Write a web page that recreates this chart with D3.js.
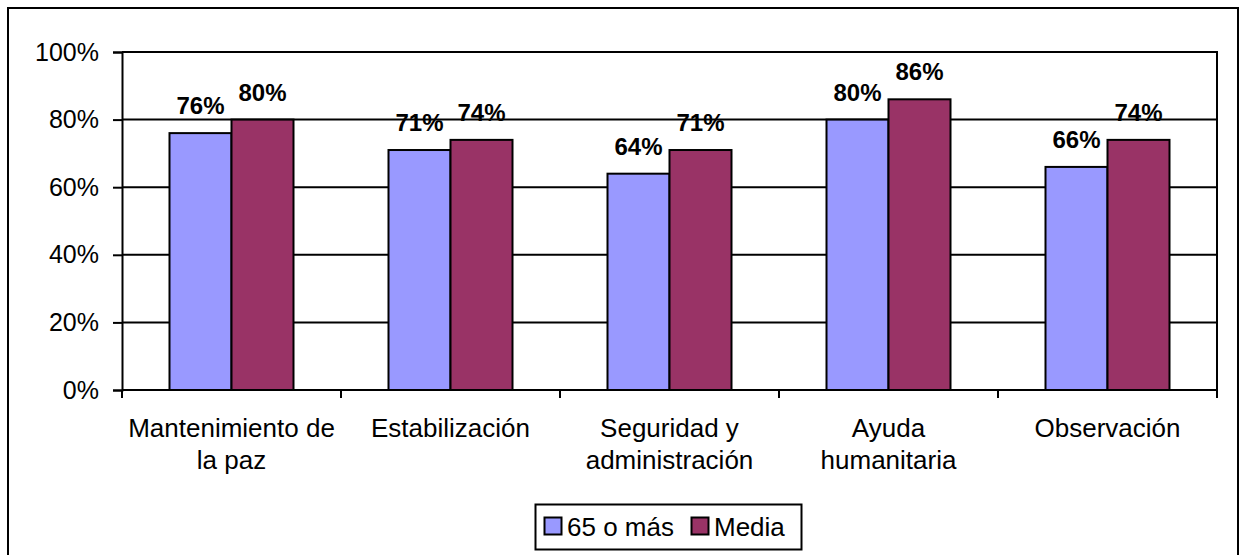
<!DOCTYPE html>
<html><head><meta charset="utf-8">
<script src="https://cdn.jsdelivr.net/npm/d3@7"></script>
<style>
html,body{margin:0;padding:0;background:#fff;}
svg{display:block;font-family:Arial,"Liberation Sans",sans-serif;}
</style></head>
<body>
<svg id="chart" width="1244" height="555"></svg>
<script>
const categories = [["Mantenimiento de","la paz"],["Estabilización"],["Seguridad y","administración"],["Ayuda","humanitaria"],["Observación"]];
const seriesNames = ["65 o más","Media"];
const serie65 = [76,71,64,80,66];
const serieMedia = [80,74,71,86,74];
const yTicks = [0,20,40,60,80,100];
const colors = ["#9999FF","#993366"];

(function(){
const svg = d3.select("#chart");
const SW = 2;
// outer frame
svg.append("rect").attr("x",8).attr("y",8).attr("width",1230).attr("height",560)
  .attr("fill","none").attr("stroke","#000").attr("stroke-width",SW);

const pLeft=122, pRight=1217, pTop=52, pBottom=390;
const x = d3.scaleBand().domain(d3.range(categories.length)).range([pLeft,pRight]).padding(0);
const y = d3.scaleLinear().domain([0,100]).range([pBottom,pTop]);

// gridlines
svg.append("g").selectAll("line").data(yTicks.filter(d=>d>0)).join("line")
  .attr("x1",pLeft).attr("x2",pRight).attr("y1",d=>y(d)).attr("y2",d=>y(d))
  .attr("stroke","#000").attr("stroke-width",SW);
// right border of plot
svg.append("line").attr("x1",pRight).attr("x2",pRight).attr("y1",pTop-1).attr("y2",pBottom)
  .attr("stroke","#000").attr("stroke-width",SW);

const barW = 62;
const data = [];
categories.forEach((c,i)=>{
  data.push({i, s:0, v:serie65[i]});
  data.push({i, s:1, v:serieMedia[i]});
});
const cx = i => x(i) + x.bandwidth()/2;
svg.append("g").selectAll("rect").data(data).join("rect")
  .attr("x",d=>cx(d.i) + (d.s===0 ? -barW : 0))
  .attr("y",d=>y(d.v)).attr("width",barW).attr("height",d=>pBottom-y(d.v))
  .attr("fill",d=>colors[d.s]).attr("stroke","#000").attr("stroke-width",SW);

svg.append("g").selectAll("text").data(data).join("text")
  .attr("x",d=>cx(d.i) + (d.s===0 ? -barW/2 : barW/2))
  .attr("y",d=>y(d.v)-19)
  .attr("text-anchor","middle").attr("font-weight","bold").attr("font-size",24)
  .attr("fill","#000").text(d=>d.v+"%");

// y axis
const yAxis = svg.append("g").attr("transform",`translate(${pLeft},0)`)
  .call(d3.axisLeft(y).tickValues(yTicks).tickFormat(d=>d+"%").tickSize(9).tickPadding(14));
yAxis.select(".domain").attr("stroke","#000").attr("stroke-width",SW);
yAxis.selectAll(".tick line").attr("stroke","#000").attr("stroke-width",SW);
yAxis.selectAll(".tick text").attr("font-size",25).attr("fill","#000").attr("font-family","Arial,'Liberation Sans',sans-serif");

// x axis
const xAxisG = svg.append("g");
xAxisG.append("line").attr("x1",pLeft).attr("x2",pRight).attr("y1",pBottom).attr("y2",pBottom)
  .attr("stroke","#000").attr("stroke-width",SW);
const xTickPos = d3.range(categories.length+1).map(i => i<categories.length ? x(i) : pRight);
xAxisG.selectAll("line.tk").data(xTickPos).join("line").attr("class","tk")
  .attr("x1",d=>d).attr("x2",d=>d).attr("y1",pBottom).attr("y2",pBottom+8)
  .attr("stroke","#000").attr("stroke-width",SW);
const catG = xAxisG.selectAll("text.cat").data(categories).join("text").attr("class","cat")
  .attr("x",(d,i)=>cx(i)).attr("y",437).attr("text-anchor","middle")
  .attr("font-size",26).attr("fill","#000");
catG.selectAll("tspan").data(d=>d).join("tspan")
  .attr("x",function(){return d3.select(this.parentNode).attr("x");})
  .attr("dy",(d,j)=>j===0?0:32).text(d=>d);

// legend
const lg = svg.append("g");
lg.append("rect").attr("x",535.5).attr("y",504.5).attr("width",266).attr("height",45)
  .attr("fill","#fff").attr("stroke","#000").attr("stroke-width",SW);
const legX = [544, 691];
seriesNames.forEach((n,k)=>{
  lg.append("rect").attr("x",legX[k]+0.5).attr("y",517.5).attr("width",17).attr("height",17)
    .attr("fill",colors[k]).attr("stroke","#000").attr("stroke-width",SW);
  lg.append("text").attr("x",legX[k]+23).attr("y",536).attr("font-size",26).attr("fill","#000").text(n);
});
})();
</script>
</body></html>
